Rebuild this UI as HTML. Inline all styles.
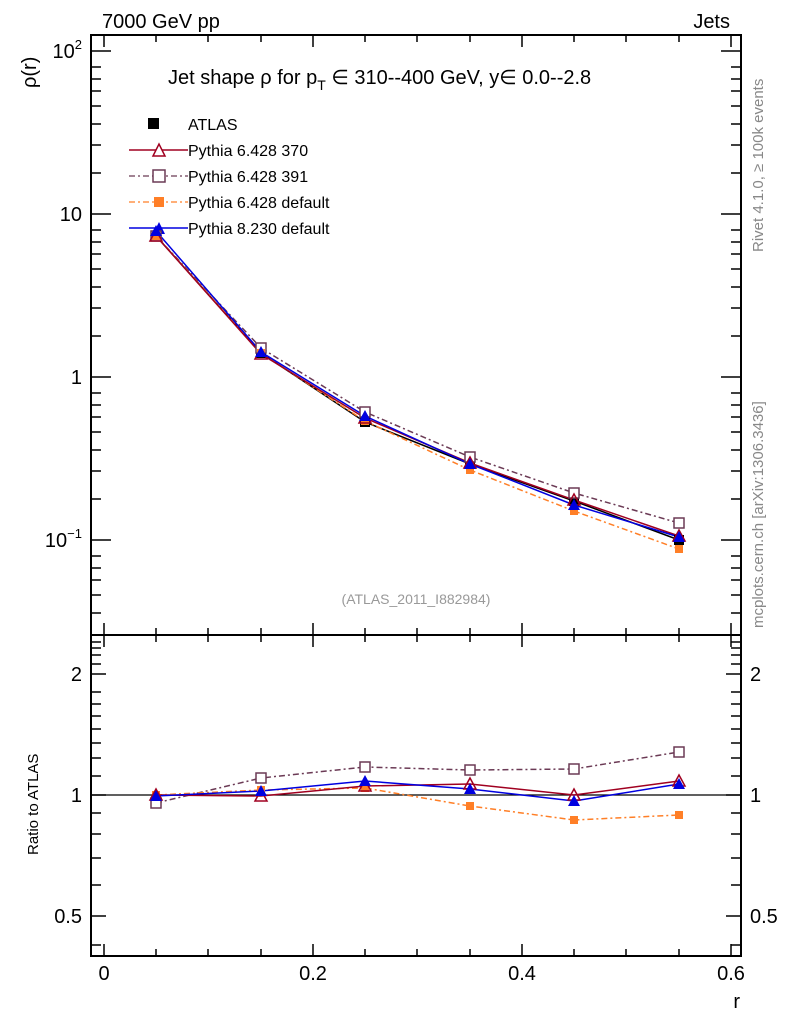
<!DOCTYPE html>
<html><head><style>body{margin:0;background:#fff}svg{display:block}text{font-family:"Liberation Sans",sans-serif}</style></head><body>
<svg width="786" height="1024" viewBox="0 0 786 1024">
<rect width="786" height="1024" fill="#fff"/>
<g stroke="#000" stroke-width="2" fill="none">
<rect x="91" y="35" width="650" height="600"/>
<rect x="91" y="635" width="650" height="321"/>
</g>
<g stroke="#000" stroke-width="1.5">
<!-- x ticks -->
<path d="M104,35v12M156,35v7M208,35v7M261,35v7M313,35v12M365,35v7M417,35v7M470,35v7M522,35v12M574,35v7M626,35v7M679,35v7M731,35v12"/>
<path d="M104,635v-12M156,635v-7M208,635v-7M261,635v-7M313,635v-12M365,635v-7M417,635v-7M470,635v-7M522,635v-12M574,635v-7M626,635v-7M679,635v-7M731,635v-12"/>
<path d="M104,635v12M156,635v7M208,635v7M261,635v7M313,635v12M365,635v7M417,635v7M470,635v7M522,635v12M574,635v7M626,635v7M679,635v7M731,635v12"/>
<path d="M104,956v-12M156,956v-7M208,956v-7M261,956v-7M313,956v-12M365,956v-7M417,956v-7M470,956v-7M522,956v-12M574,956v-7M626,956v-7M679,956v-7M731,956v-12"/>
<!-- y main -->
<path d="M91,51h20M91,214h20M91,377h20M91,540h20M741,51h-20M741,214h-20M741,377h-20M741,540h-20"/>
<path d="M91,67h10M91,79h10M91,91h10M91,106h10M91,124h10M91,145h10M91,173h10M91,230h10M91,242h10M91,254h10M91,269h10M91,287h10M91,308h10M91,336h10M91,393h10M91,405h10M91,417h10M91,432h10M91,450h10M91,471h10M91,499h10M91,556h10M91,568h10M91,580h10M91,595h10M91,613h10"/>
<path d="M741,67h-10M741,79h-10M741,91h-10M741,106h-10M741,124h-10M741,145h-10M741,173h-10M741,230h-10M741,242h-10M741,254h-10M741,269h-10M741,287h-10M741,308h-10M741,336h-10M741,393h-10M741,405h-10M741,417h-10M741,432h-10M741,450h-10M741,471h-10M741,499h-10M741,556h-10M741,568h-10M741,580h-10M741,595h-10M741,613h-10"/>
<!-- y ratio -->
<path d="M91,674h15M91,795h15M91,916h15M741,674h-15M741,795h-15M741,916h-15"/>
<path d="M91,642h10M91,648h10M91,655h10M91,664h10M91,692h10M91,704h10M91,716h10M91,729h10M91,743h10M91,758h10M91,776h10M91,813h10M91,834h10M91,858h10M91,885h10M91,945h10"/>
<path d="M741,642h-10M741,648h-10M741,655h-10M741,664h-10M741,692h-10M741,704h-10M741,716h-10M741,729h-10M741,743h-10M741,758h-10M741,776h-10M741,813h-10M741,834h-10M741,858h-10M741,885h-10M741,945h-10"/>
<path d="M91,795h650" stroke-width="1.2"/>
</g>
<g font-size="20" fill="#000">
<text x="102" y="28">7000 GeV pp</text>
<text x="730" y="28" text-anchor="end">Jets</text>
<text x="82" y="58" text-anchor="end">10<tspan font-size="13" dy="-9">2</tspan></text>
<text x="82" y="221" text-anchor="end">10</text>
<text x="82" y="384" text-anchor="end">1</text>
<text x="82" y="547" text-anchor="end">10<tspan font-size="13" dy="-9">−1</tspan></text>
<text x="82" y="681" text-anchor="end">2</text>
<text x="82" y="802" text-anchor="end">1</text>
<text x="82" y="923" text-anchor="end">0.5</text>
<text x="750" y="681">2</text>
<text x="750" y="802">1</text>
<text x="750" y="923">0.5</text>
<text x="104" y="980" text-anchor="middle">0</text>
<text x="313" y="980" text-anchor="middle">0.2</text>
<text x="522" y="980" text-anchor="middle">0.4</text>
<text x="731" y="980" text-anchor="middle">0.6</text>
<text x="740" y="1008" text-anchor="end">r</text>
<text transform="translate(36,88) rotate(-90)" text-anchor="start">ρ(r)</text>
<text x="168" y="84">Jet shape ρ for p<tspan font-size="14" dy="6">T</tspan><tspan dy="-6"> ∈ 310--400 GeV, y∈ 0.0--2.8</tspan></text>
</g>
<text transform="translate(38,855) rotate(-90)" font-size="15" text-anchor="start">Ratio to ATLAS</text>
<text x="416" y="604" font-size="14" fill="#999" text-anchor="middle">(ATLAS_2011_I882984)</text>
<text transform="translate(763,252) rotate(-90)" font-size="15" fill="#888">Rivet 4.1.0, ≥ 100k events</text>
<text transform="translate(763,628) rotate(-90)" font-size="15" fill="#888">mcplots.cern.ch [arXiv:1306.3436]</text>
<!-- legend -->
<g font-size="16">
<rect x="148" y="118" width="11" height="11" fill="#000"/><text x="188" y="130">ATLAS</text>
<path d="M129,150h59" stroke="#a00020" stroke-width="1.5"/><path d="M153,156l6,-12l6,12z" fill="#fff" stroke="#a00020" stroke-width="1.5"/><text x="188" y="156">Pythia 6.428 370</text>
<path d="M129,176h59" stroke="#6b3a55" stroke-width="1.3" stroke-dasharray="6,3,2,3"/><rect x="153" y="170" width="12" height="12" fill="#fff" stroke="#6b3a55" stroke-width="1.5"/><text x="188" y="182">Pythia 6.428 391</text>
<path d="M129,202h59" stroke="#ff7f27" stroke-width="1.3" stroke-dasharray="6,3,2,3"/><rect x="154" y="197" width="10" height="10" fill="#ff7f27"/><text x="188" y="208">Pythia 6.428 default</text>
<path d="M129,228h59" stroke="#0000e0" stroke-width="1.5"/><path d="M153,234l6,-12l6,12z" fill="#0000e0"/><text x="188" y="234">Pythia 8.230 default</text>
</g>
<!-- main series -->
<g fill="none" stroke-width="1.5">
<polyline points="156,236 261,353 365,422 470,464 574,501 679,540" stroke="#000"/>
<polyline points="156,236 261,348 365,412 470,457 574,493 679,523" stroke="#6b3a55" stroke-dasharray="6,3,2,3"/>
<polyline points="156,236 261,353 365,421 470,470 574,511 679,549" stroke="#ff7f27" stroke-dasharray="6,3,2,3"/>
<polyline points="156,236 261,354 365,418 470,463 574,500 679,536" stroke="#a00020"/>
<polyline points="156,231 261,352 365,416 470,464 574,505 679,537" stroke="#0000e0"/>
</g>
<g fill="#000"><rect x="151" y="231" width="10" height="10"/><rect x="256" y="348" width="10" height="10"/><rect x="360" y="417" width="10" height="10"/><rect x="465" y="459" width="10" height="10"/><rect x="569" y="496" width="10" height="10"/><rect x="674" y="535" width="10" height="10"/></g>
<g fill="#fff" stroke="#6b3a55" stroke-width="1.5"><rect x="151" y="231" width="10" height="10"/><rect x="256" y="343" width="10" height="10"/><rect x="360" y="407" width="10" height="10"/><rect x="465" y="452" width="10" height="10"/><rect x="569" y="488" width="10" height="10"/><rect x="674" y="518" width="10" height="10"/></g>
<g fill="#ff7f27"><rect x="152" y="232" width="8" height="8"/><rect x="257" y="349" width="8" height="8"/><rect x="361" y="417" width="8" height="8"/><rect x="466" y="466" width="8" height="8"/><rect x="570" y="507" width="8" height="8"/><rect x="675" y="545" width="8" height="8"/></g>
<g fill="none" stroke="#a00020" stroke-width="1.5"><path d="M150,241l6,-11l6,11z M255,359l6,-11l6,11z M359,423l6,-11l6,11z M464,468l6,-11l6,11z M568,505l6,-11l6,11z M673,541l6,-11l6,11z"/></g>
<g fill="#0000e0"><path d="M150,236l6,-11l6,11z M255,357l6,-11l6,11z M359,421l6,-11l6,11z M464,469l6,-11l6,11z M568,510l6,-11l6,11z M673,542l6,-11l6,11z"/></g>
<!-- ratio series -->
<g fill="none" stroke-width="1.5">
<polyline points="156,803 261,778 365,767 470,770 574,769 679,752" stroke="#6b3a55" stroke-dasharray="6,3,2,3"/>
<polyline points="156,795 261,790 365,788 470,806 574,820 679,815" stroke="#ff7f27" stroke-dasharray="6,3,2,3"/>
<polyline points="156,795 261,796 365,786 470,784 574,795 679,781" stroke="#a00020"/>
<polyline points="156,796 261,791 365,781 470,789 574,801 679,784" stroke="#0000e0"/>
</g>
<g fill="#fff" stroke="#6b3a55" stroke-width="1.5"><rect x="151" y="798" width="10" height="10"/><rect x="256" y="773" width="10" height="10"/><rect x="360" y="762" width="10" height="10"/><rect x="465" y="765" width="10" height="10"/><rect x="569" y="764" width="10" height="10"/><rect x="674" y="747" width="10" height="10"/></g>
<g fill="#ff7f27"><rect x="152" y="791" width="8" height="8"/><rect x="257" y="786" width="8" height="8"/><rect x="361" y="784" width="8" height="8"/><rect x="466" y="802" width="8" height="8"/><rect x="570" y="816" width="8" height="8"/><rect x="675" y="811" width="8" height="8"/></g>
<g fill="none" stroke="#a00020" stroke-width="1.5"><path d="M150,800l6,-11l6,11z M255,801l6,-11l6,11z M359,791l6,-11l6,11z M464,789l6,-11l6,11z M568,800l6,-11l6,11z M673,786l6,-11l6,11z"/></g>
<g fill="#0000e0"><path d="M150,801l6,-11l6,11z M255,796l6,-11l6,11z M359,786l6,-11l6,11z M464,794l6,-11l6,11z M568,806l6,-11l6,11z M673,789l6,-11l6,11z"/></g>
</svg>
</body></html>
